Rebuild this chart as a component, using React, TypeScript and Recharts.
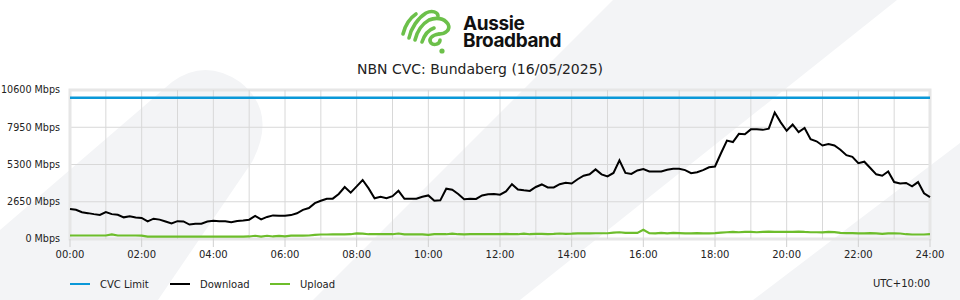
import { LineChart, Line, XAxis, YAxis, CartesianGrid, ReferenceLine, ReferenceArea } from 'recharts';

// 10 minute samples, 00:00 -> 24:00 (Mbps), one row per hour
const DOWNLOAD = [
  2130, 2080, 1900, 1840, 1770, 1710,
  1917, 1770, 1720, 1540, 1610, 1530,
  1500, 1250, 1444, 1380, 1240, 1100,
  1270, 1250, 1030, 1090, 1089, 1240,
  1302, 1260, 1254, 1200, 1280, 1320,
  1373, 1640, 1400, 1570, 1680, 1650,
  1657, 1700, 1830, 2070, 2200, 2550,
  2720, 2864, 2870, 3200, 3700, 3300,
  3740, 4200, 3600, 2900, 3000, 2900,
  3050, 3430, 2864, 2864, 2864, 3000,
  3100, 2720, 2750, 3580, 3500, 3200,
  2830, 2860, 2850, 3100, 3190, 3195,
  3150, 3380, 3900, 3520, 3460, 3420,
  3700, 3880, 3669, 3669, 3900, 4000,
  3950, 4250, 4500, 4600, 4950, 4600,
  4450, 4700, 5600, 4700, 4630, 4880,
  4970, 4800, 4800, 4810, 4920, 4990,
  4990, 4900, 4687, 4750, 4900, 5100,
  5160, 6100, 7000, 6900, 7480, 7450,
  7800, 7800, 7764, 7850, 9000, 8300,
  7700, 8150, 7600, 7900, 7100, 6950,
  6651, 6750, 6650, 6350, 5965, 5850,
  5397, 5500, 5050, 4600, 4500, 4800,
  4048, 3950, 3990, 3750, 4050, 3250,
  2982,
];

const UPLOAD = [
  250, 250, 250, 250, 250, 250,
  250, 330, 250, 250, 250, 250,
  240, 170, 170, 170, 170, 170,
  170, 170, 170, 170, 170, 170,
  170, 170, 170, 170, 170, 170,
  180, 230, 170, 230, 180, 220,
  190, 240, 240, 240, 250, 300,
  320, 320, 330, 330, 330, 340,
  400, 380, 340, 340, 340, 340,
  340, 390, 330, 330, 330, 330,
  290, 340, 340, 340, 380, 340,
  330, 340, 340, 340, 340, 350,
  340, 360, 340, 340, 380, 340,
  360, 360, 340, 360, 390, 370,
  380, 400, 400, 400, 410, 410,
  410, 450, 480, 430, 430, 430,
  650, 420, 400, 430, 400, 430,
  420, 400, 400, 420, 400, 400,
  420, 450, 480, 500, 480, 500,
  500, 480, 500, 520, 510, 510,
  510, 500, 530, 500, 480, 480,
  470, 500, 490, 440, 420, 420,
  400, 400, 420, 400, 370, 400,
  400, 390, 340, 320, 320, 320,
  350,
];

const CVC_LIMIT = 10050;
const Y_TICKS = [0, 2650, 5300, 7950, 10600];
const X_TICKS = [0, 2, 4, 6, 8, 10, 12, 14, 16, 18, 20, 22, 24];
const HOUR_LINES = [1, 2, 3, 4, 5, 6, 7, 8, 9, 10, 11, 12, 13, 14, 15, 16, 17, 18, 19, 20, 21, 22, 23];

const data = DOWNLOAD.map((d, i) => ({
  t: i / 6,
  download: d,
  upload: UPLOAD[i],
  cvc: CVC_LIMIT,
}));

const FONT = '"DejaVu Sans", sans-serif';
const BLUE = '#0a98d8';
const GREEN = '#6dbd2b';

const pad = (h: number) => (h < 10 ? `0${h}` : `${h}`);

const YTick = (props: any) => {
  const { x, y, payload } = props;
  return (
    <text x={x} y={y} dy="0.355em" textAnchor="end" fontFamily={FONT} fontSize={9.6} fill="#222">
      {`${payload.value} Mbps`}
    </text>
  );
};

function Background() {
  return (
    <svg width={960} height={300} style={{ position: 'absolute', left: 0, top: 0 }}>
      <rect width={960} height={300} fill="#ffffff" />
      <path d="M0,230 L172,82 Q205,58 240,82 Q278,112 252,162 L158,300 L0,300 Z" fill="#f3f4f6" />
      <polygon points="613,0 897,0 520,300 313,300" fill="#f3f4f6" />
      <polygon points="960,143 960,300 753,300" fill="#f3f4f6" />
    </svg>
  );
}

function Logo() {
  return (
    <div style={{ position: 'absolute', left: 398, top: 0, width: 170, height: 56 }}>
      <svg width={60} height={56} style={{ position: 'absolute', left: 0, top: 4 }}>
        <g fill="none" stroke="#6cc04a" strokeWidth={3.6} strokeLinecap="round">
          <path d="M5,30 C7,22 12,14 18,10" />
          <path d="M11,34 C13,24 20,14 28,9 C34,6 40,8 40,12" />
          <path d="M17,36 C19,28 24,20 31,16 C38,13 46,14 50,20 C53,26 47,30 41,30" />
          <path d="M24,38 C26,32 30,26 36,24" />
          <path d="M41,30 C34,31 30,35 33,39 C36,42 42,40 42,36" />
        </g>
        <circle cx={44} cy={47} r={2.6} fill="#6cc04a" />
      </svg>
      <div
        style={{
          position: 'absolute',
          left: 65,
          top: 15,
          fontFamily: 'Inter, Roboto, sans-serif',
          fontWeight: 700,
          fontSize: 19,
          lineHeight: '17px',
          letterSpacing: -0.4,
          color: '#111',
          whiteSpace: 'pre-line',
        }}
      >
        {'Aussie\nBroadband'}
      </div>
    </div>
  );
}

function LegendRow() {
  const item = (color: string, label: string, left: number) => (
    <div style={{ position: 'absolute', left, top: 277, height: 14, display: 'flex', alignItems: 'center' }}>
      <span style={{ display: 'inline-block', width: 20, height: 2, background: color, marginRight: 10 }} />
      <span style={{ fontFamily: FONT, fontSize: 10, color: '#222' }}>{label}</span>
    </div>
  );
  return (
    <>
      {item(BLUE, 'CVC Limit', 70)}
      {item('#000000', 'Download', 170)}
      {item(GREEN, 'Upload', 270)}
      <div
        style={{
          position: 'absolute',
          right: 30,
          top: 277,
          height: 14,
          lineHeight: '14px',
          fontFamily: FONT,
          fontSize: 10,
          color: '#222',
        }}
      >
        UTC+10:00
      </div>
    </>
  );
}

export default function App() {
  return (
    <div style={{ position: 'absolute', left: 0, top: 0, width: 960, height: 300, overflow: 'hidden' }}>
      <Background />
      <Logo />
      <div
        style={{
          position: 'absolute',
          left: 0,
          top: 61,
          width: 960,
          textAlign: 'center',
          fontFamily: FONT,
          fontSize: 14,
          color: '#222',
        }}
      >
        NBN CVC: Bundaberg (16/05/2025)
      </div>
      <div style={{ position: 'absolute', left: 0, top: 0 }}>
        <LineChart width={960} height={300} data={data} margin={{ top: 90, right: 30, bottom: 31, left: 0 }}>
          <CartesianGrid vertical={false} stroke="#d8d8d8" />
          {HOUR_LINES.map((h) => (
            <ReferenceLine key={h} x={h} stroke="#d8d8d8" />
          ))}
          <ReferenceArea x1={0} x2={24} y1={0} y2={10600} fill="none" stroke="#e6e6e6" strokeWidth={3} />
          <XAxis
            dataKey="t"
            type="number"
            domain={[0, 24]}
            ticks={X_TICKS}
            tickFormatter={(h: number) => `${pad(h)}:00`}
            height={30}
            axisLine={false}
            tickLine={{ stroke: '#d0d0d0' }}
            tickSize={8}
            tickMargin={4}
            tick={{ fontFamily: FONT, fontSize: 10, fill: '#222' }}
            interval={0}
          />
          <YAxis
            type="number"
            domain={[0, 10600]}
            ticks={Y_TICKS}
            width={70}
            axisLine={false}
            tickLine={false}
            tickSize={0}
            tickMargin={10}
            tick={YTick}
            interval={0}
          />
          <Line dataKey="cvc" stroke={BLUE} strokeWidth={2.5} dot={false} isAnimationActive={false} />
          <Line dataKey="upload" stroke={GREEN} strokeWidth={2.2} dot={false} isAnimationActive={false} />
          <Line dataKey="download" stroke="#000000" strokeWidth={2} dot={false} isAnimationActive={false} />
        </LineChart>
      </div>
      <LegendRow />
    </div>
  );
}
